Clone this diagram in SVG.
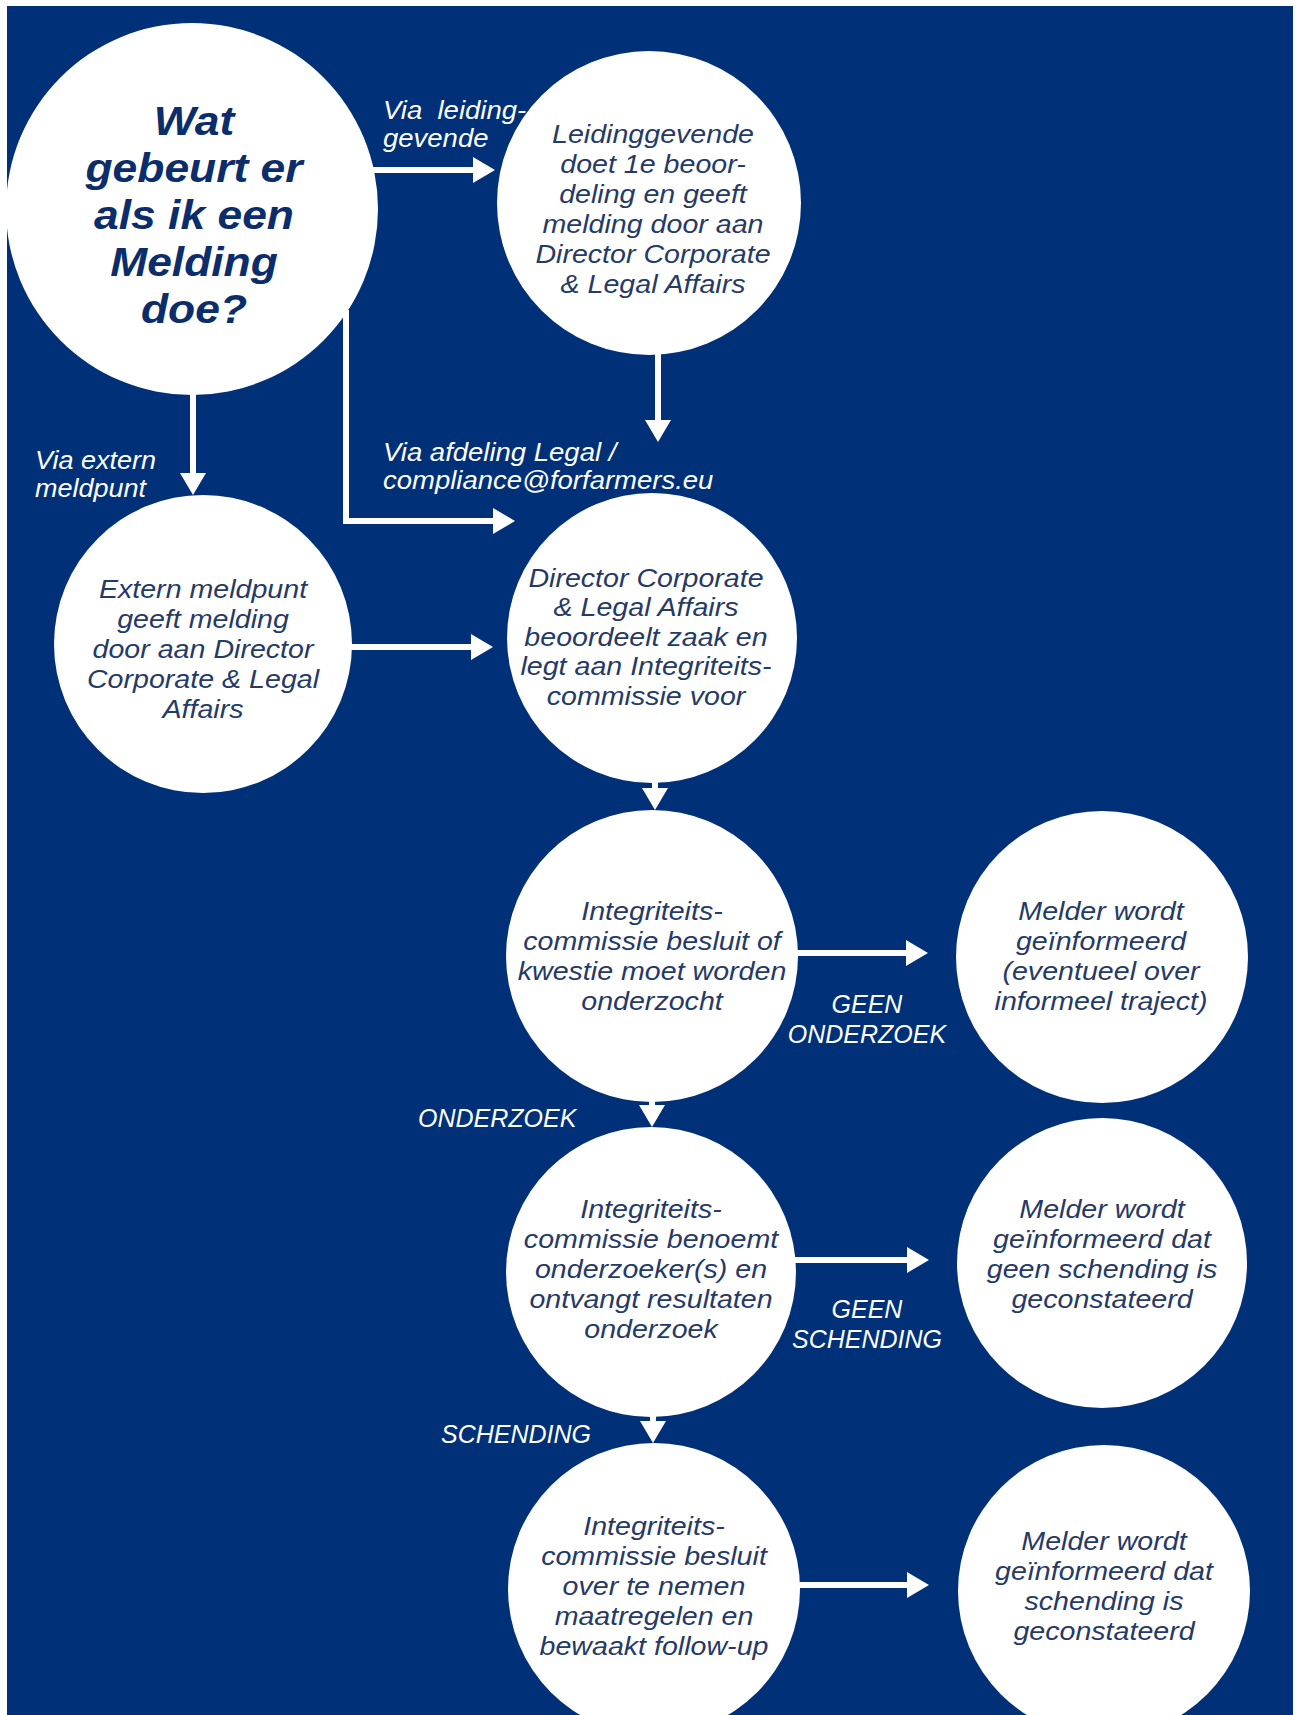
<svg xmlns="http://www.w3.org/2000/svg" width="1301" height="1715" viewBox="0 0 1301 1715">
<style>
.bg{fill:#003078}
.node{fill:#ffffff}
.title{font-family:"Liberation Sans",Arial,sans-serif;font-weight:700;font-style:italic;font-size:41.5px;fill:#0b2d6b;text-anchor:middle}
.body{font-family:"Liberation Sans",Arial,sans-serif;font-style:italic;font-size:26px;fill:#263a66;text-anchor:middle}
.lbl{font-family:"Liberation Sans",Arial,sans-serif;font-style:italic;font-size:25px;fill:#ffffff}
.mid{text-anchor:middle}
.conn{fill:none;stroke:#ffffff;stroke-width:6;marker-end:url(#ah)}
</style>
<defs>
<marker id="ah" markerUnits="userSpaceOnUse" markerWidth="22" markerHeight="26" refX="12" refY="13" orient="auto" viewBox="0 0 22 26">
<path d="M0,0 L22,13 L0,26 z" fill="#ffffff"/>
</marker>
</defs>
<rect x="0" y="0" width="1301" height="1715" fill="#ffffff"/>
<rect class="bg" x="7" y="6" width="1286" height="1709"/>

<g id="connectors">
<path class="conn" d="M372 170 H485"/>
<path class="conn" d="M658 352 V432"/>
<path class="conn" d="M193 393 V485"/>
<path class="conn" d="M346 310 V521 H505"/>
<path class="conn" d="M350 647 H483"/>
<path class="conn" d="M655 780 V800"/>
<path class="conn" d="M796 953 H918"/>
<path class="conn" d="M652 1100 V1117"/>
<path class="conn" d="M795 1260 H919"/>
<path class="conn" d="M653 1415 V1433"/>
<path class="conn" d="M798 1585 H919"/>
</g>

<g id="labels">
<text class="lbl" transform="translate(383 0) scale(1.1 1)" xml:space="preserve"><tspan x="0" y="119">Via  leiding-</tspan><tspan x="0" y="147">gevende</tspan></text>
<text class="lbl" transform="translate(35 0) scale(1.08 1)"><tspan x="0" y="469">Via extern</tspan><tspan x="0" y="497">meldpunt</tspan></text>
<text class="lbl" transform="translate(383 0) scale(1.1 1)"><tspan x="0" y="461">Via afdeling Legal /</tspan><tspan x="0" y="489">compliance@forfarmers.eu</tspan></text>
<text class="lbl mid"><tspan x="867" y="1013">GEEN</tspan><tspan x="867" y="1043">ONDERZOEK</tspan></text>
<text class="lbl" x="418" y="1127">ONDERZOEK</text>
<text class="lbl mid"><tspan x="867" y="1318">GEEN</tspan><tspan x="867" y="1348">SCHENDING</tspan></text>
<text class="lbl" x="441" y="1443">SCHENDING</text>
</g>

<g id="node-start">
<circle class="node" cx="192" cy="209" r="186"/>
<text class="title" transform="translate(194 0) scale(1.07 1)"><tspan x="0" y="135">Wat</tspan><tspan x="0" y="182">gebeurt er</tspan><tspan x="0" y="229">als ik een</tspan><tspan x="0" y="276">Melding</tspan><tspan x="0" y="323">doe?</tspan></text>
</g>

<g id="node-leidinggevende">
<circle class="node" cx="649" cy="203" r="152"/>
<text class="body" transform="translate(653 0) scale(1.1 1)"><tspan x="0" y="143">Leidinggevende</tspan><tspan x="0" y="173">doet 1e beoor-</tspan><tspan x="0" y="203">deling en geeft</tspan><tspan x="0" y="233">melding door aan</tspan><tspan x="0" y="263">Director Corporate</tspan><tspan x="0" y="293">&amp; Legal Affairs</tspan></text>
</g>

<g id="node-extern">
<circle class="node" cx="203" cy="644" r="149"/>
<text class="body" transform="translate(203 0) scale(1.1 1)"><tspan x="0" y="598">Extern meldpunt</tspan><tspan x="0" y="628">geeft melding</tspan><tspan x="0" y="658">door aan Director</tspan><tspan x="0" y="688">Corporate &amp; Legal</tspan><tspan x="0" y="718">Affairs</tspan></text>
</g>

<g id="node-director">
<circle class="node" cx="652" cy="638" r="145"/>
<text class="body" transform="translate(646 0) scale(1.1 1)"><tspan x="0" y="587">Director Corporate</tspan><tspan x="0" y="616.5">&amp; Legal Affairs</tspan><tspan x="0" y="646">beoordeelt zaak en</tspan><tspan x="0" y="675.5">legt aan Integriteits-</tspan><tspan x="0" y="705">commissie voor</tspan></text>
</g>

<g id="node-besluit">
<circle class="node" cx="652" cy="956" r="146"/>
<text class="body" transform="translate(652 0) scale(1.1 1)"><tspan x="0" y="920">Integriteits-</tspan><tspan x="0" y="950">commissie besluit of</tspan><tspan x="0" y="980">kwestie moet worden</tspan><tspan x="0" y="1010">onderzocht</tspan></text>
</g>

<g id="node-geen-onderzoek">
<circle class="node" cx="1102" cy="957" r="146"/>
<text class="body" transform="translate(1101 0) scale(1.1 1)"><tspan x="0" y="920">Melder wordt</tspan><tspan x="0" y="950">geïnformeerd</tspan><tspan x="0" y="980">(eventueel over</tspan><tspan x="0" y="1010">informeel traject)</tspan></text>
</g>

<g id="node-onderzoek">
<circle class="node" cx="651" cy="1272" r="145"/>
<text class="body" transform="translate(651 0) scale(1.1 1)"><tspan x="0" y="1218">Integriteits-</tspan><tspan x="0" y="1248">commissie benoemt</tspan><tspan x="0" y="1278">onderzoeker(s) en</tspan><tspan x="0" y="1308">ontvangt resultaten</tspan><tspan x="0" y="1338">onderzoek</tspan></text>
</g>

<g id="node-geen-schending">
<circle class="node" cx="1102" cy="1263" r="145"/>
<text class="body" transform="translate(1102 0) scale(1.1 1)"><tspan x="0" y="1218">Melder wordt</tspan><tspan x="0" y="1248">geïnformeerd dat</tspan><tspan x="0" y="1278">geen schending is</tspan><tspan x="0" y="1308">geconstateerd</tspan></text>
</g>

<g id="node-maatregelen">
<circle class="node" cx="654" cy="1589" r="146"/>
<text class="body" transform="translate(654 0) scale(1.1 1)"><tspan x="0" y="1535">Integriteits-</tspan><tspan x="0" y="1565">commissie besluit</tspan><tspan x="0" y="1595">over te nemen</tspan><tspan x="0" y="1625">maatregelen en</tspan><tspan x="0" y="1655">bewaakt follow-up</tspan></text>
</g>

<g id="node-schending">
<circle class="node" cx="1104" cy="1591" r="146"/>
<text class="body" transform="translate(1104 0) scale(1.1 1)"><tspan x="0" y="1550">Melder wordt</tspan><tspan x="0" y="1580">geïnformeerd dat</tspan><tspan x="0" y="1610">schending is</tspan><tspan x="0" y="1640">geconstateerd</tspan></text>
</g>
</svg>
